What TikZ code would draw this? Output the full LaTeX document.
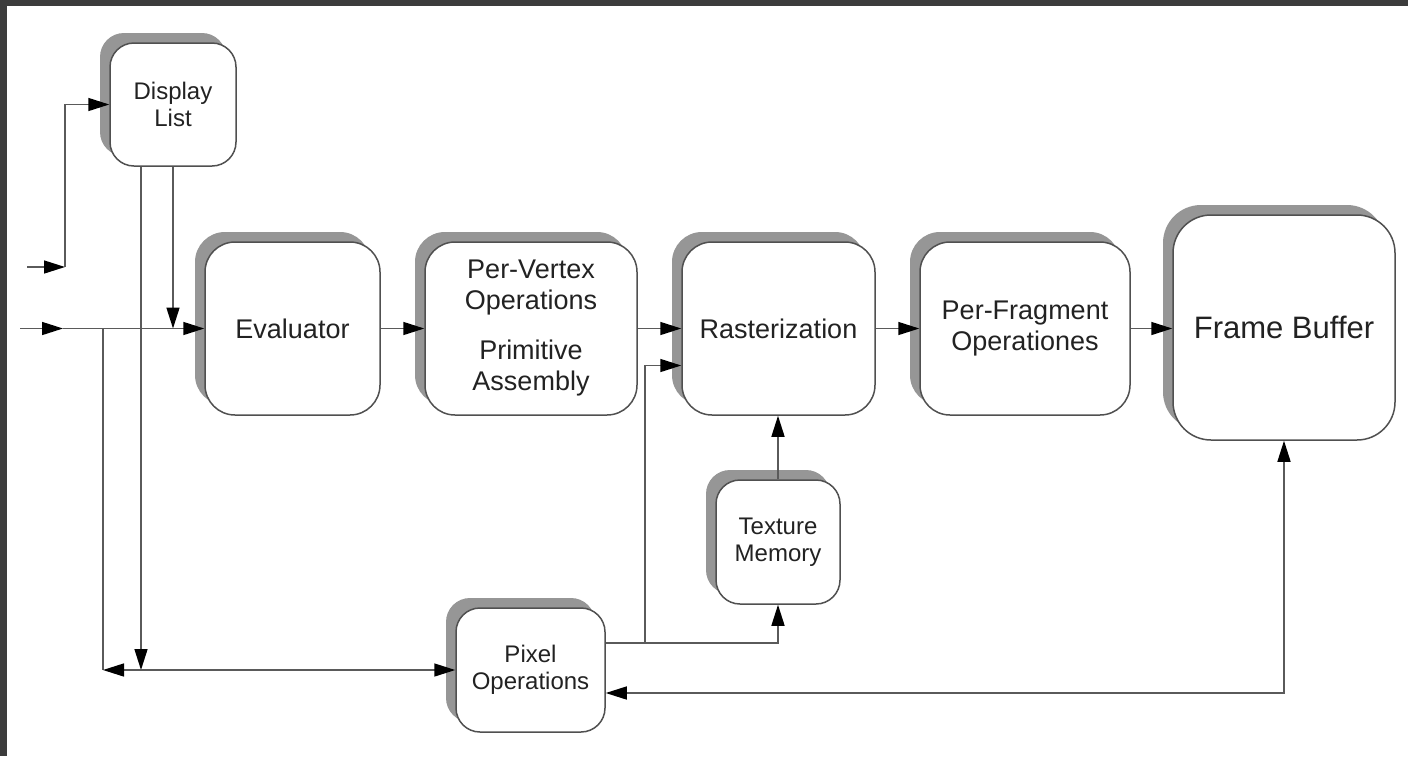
\documentclass[tikz,border=0pt]{standalone}
\usepackage{fontspec}
\setmainfont{Liberation Sans}
\usetikzlibrary{arrows.meta,shadows,calc}
\definecolor{framegray}{HTML}{3C3C3C}
\definecolor{shadowgray}{HTML}{969696}
\definecolor{edgegray}{HTML}{505050}
\definecolor{linegray}{HTML}{5A5A5A}
\definecolor{textgray}{HTML}{222222}
\begin{document}
\begin{tikzpicture}[x=1pt,y=-1pt,
  box/.style={draw=edgegray,line width=1.5pt,fill=white,inner sep=0pt,align=center,
    text=textgray,
    copy shadow={shadow xshift=-10pt,shadow yshift=10pt,fill=shadowgray,draw=none}},
  bigbox/.style={box,rounded corners=30pt,font=\fontsize{27}{31}\selectfont},
  smallbox/.style={box,rounded corners=24pt,font=\fontsize{24}{27}\selectfont},
  conn/.style={draw=linegray,line width=1.5pt},
  arr/.style={conn,-{Triangle[length=21pt,width=13pt,color=black]}},
  darr/.style={conn,{Triangle[length=21pt,width=13pt,color=black]}-{Triangle[length=21pt,width=13pt,color=black]}}
]
\useasboundingbox (0,0) rectangle (1408,756);
\fill[white] (0,0) rectangle (1408,756);
\fill[framegray] (0,0) rectangle (1408,6);
\fill[framegray] (0,0) rectangle (7,756);

% nodes
\node[smallbox,minimum width=126pt,minimum height=123pt] (DL) at (173,104.5) {Display\\List};
\node[bigbox,minimum width=175pt,minimum height=173pt] (EV) at (292.5,328.5) {Evaluator};
\node[bigbox,minimum width=212pt,minimum height=173pt] (PV) at (531,328.5) {Per-Vertex\\Operations\\[19pt]Primitive\\Assembly};
\node[bigbox,minimum width=193pt,minimum height=173pt] (RA) at (778.5,328.5) {Rasterization};
\node[bigbox,minimum width=210pt,minimum height=173pt] (PF) at (1025,328.5) {Per-Fragment\\Operationes};
\node[box,rounded corners=38pt,font=\fontsize{31}{36}\selectfont,minimum width=222pt,minimum height=225pt] (FB) at (1284,327.5) {Frame Buffer};
\node[smallbox,minimum width=124pt,minimum height=124pt] (TM) at (778,542) {Texture\\Memory};
\node[smallbox,minimum width=149pt,minimum height=124pt] (PO) at (530.5,670) {Pixel\\Operations};

% junction coordinates
\coordinate (in1) at (27,267);
\coordinate (c1) at (65,267);
\coordinate (in2) at (20,328.5);
\coordinate (m2) at (63,328.5);
\coordinate (j0) at (103,328.5);
\coordinate (j1) at (103,670);
\coordinate (j2) at (141,670);
\coordinate (j3) at (645,643);
\coordinate (j4) at (1284,693);

% connectors
\draw[arr] (in1) -- (c1);
\draw[arr] (c1) |- (DL.west);
\draw[arr] (in2) -- (m2);
\draw[arr] (m2) -- (EV.west);
\draw[arr] (DL.south) -- (DL.south |- EV.west);
\draw[arr] (DL.south -| j2) -- (j2);
\draw[conn] (j0) -- (j1);
\draw[darr] (j1) -- (PO.west);
\draw[arr] (EV.east) -- (PV.west);
\draw[arr] (PV.east) -- (RA.west);
\draw[arr] (RA.east) -- (PF.west);
\draw[arr] (PF.east) -- (FB.west |- PF.east);
\draw[arr] (PO.east |- j3) -- (j3) |- ([yshift=-37pt]RA.west);
\draw[arr] (j3) -| (TM.south);
\draw[arr] (TM.north) -- (TM.north |- RA.south);
\draw[darr] (PO.east |- j4) -| (FB.south);
\end{tikzpicture}
\end{document}
